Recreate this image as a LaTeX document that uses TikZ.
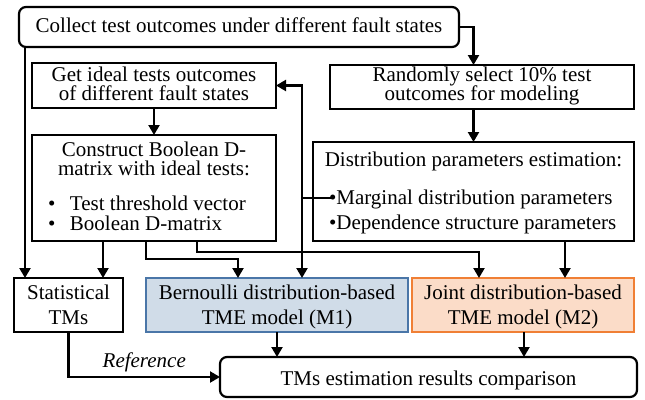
\documentclass[tikz,border=0pt]{standalone}
\usepackage{fontspec}
\setmainfont{Liberation Serif}
\usetikzlibrary{arrows.meta}
\definecolor{bluebd}{HTML}{4A76A8}
\definecolor{bluefill}{HTML}{D0DCE8}
\definecolor{orangebd}{HTML}{F07F35}
\definecolor{orangefill}{HTML}{FBDCC8}
\newcommand{\bigbul}{\makebox[22pt][l]{•}}
\begin{document}
\begin{tikzpicture}[x=1pt,y=-1pt,
  box/.style={draw, line width=2.2pt, inner sep=0pt, outer sep=0pt, rectangle},
  rbox/.style={box, rounded corners=7pt},
  txt/.style={inner sep=0pt, outer sep=0pt, font=\fontsize{21}{16}\selectfont},
  arr/.style={line width=2.2pt, -{Triangle[length=10pt,width=11pt]}},
  ln/.style={line width=2.2pt}]
\useasboundingbox (0,0) rectangle (645,399);

% boxes
\node[rbox, minimum width=440pt, minimum height=40pt] (top) at (239,27) {};
\node[box, minimum width=244pt, minimum height=45pt] (get) at (154,85.5) {};
\node[box, minimum width=244pt, minimum height=106pt] (con) at (154,188) {};
\node[box, minimum width=304pt, minimum height=44pt] (rand) at (482,87) {};
\node[box, minimum width=321pt, minimum height=99pt] (dist) at (473.5,191.5) {};
\node[box, minimum width=109pt, minimum height=54pt] (stat) at (68.5,305) {};
\node[box, draw=bluebd, fill=bluefill, minimum width=262pt, minimum height=54pt] (bern) at (277,305) {};
\node[box, draw=orangebd, fill=orangefill, minimum width=222pt, minimum height=54pt] (joint) at (523,305) {};
\node[rbox, minimum width=417pt, minimum height=40pt] (bot) at (428.5,377) {};

% texts
\node[txt, anchor=base] (t1) at (239,32) {Collect test outcomes under different fault states};
\node[txt, anchor=base] (g1) at (154,81.5) {Get ideal tests outcomes};
\node[txt, anchor=base] (g2) at (154,100.5) {of different fault states};
\node[txt, anchor=base] (r1) at (482,81.5) {Randomly select 10\% test};
\node[txt, anchor=base] (r2) at (482,100.5) {outcomes for modeling};
\node[txt, anchor=base] (c1) at (154,156.5) {Construct Boolean D-};
\node[txt, anchor=base] (c2) at (154,175.5) {matrix with ideal tests:};
\node[txt, anchor=base west] (c3) at (48,210) {\bigbul Test threshold vector};
\node[txt, anchor=base west] (c4) at (48,230) {\bigbul Boolean D-matrix};
\node[txt, anchor=base] (d1) at (473.5,166) {Distribution parameters estimation:};
\node[txt, anchor=base west] (d2) at (329,204) {•Marginal distribution parameters};
\node[txt, anchor=base west] (d3) at (329,229) {•Dependence structure parameters};
\node[txt, anchor=base] (s1) at (68.5,299) {Statistical};
\node[txt, anchor=base] (s2) at (68.5,324) {TMs};
\node[txt, anchor=base] (b1) at (277,299) {Bernoulli distribution-based};
\node[txt, anchor=base] (b2) at (277,324) {TME model (M1)};
\node[txt, anchor=base] (j1) at (523,299) {Joint distribution-based};
\node[txt, anchor=base] (j2) at (523,324) {TME model (M2)};
\node[txt, anchor=base] (e1) at (428.5,385) {TMs estimation results comparison};

% connectors
\draw[arr] (top.east) -| (dist.north |- rand.north);
\draw[arr] ([xshift=6pt]top.south west) -- ([xshift=11pt]stat.north west);
\draw[arr] (get.south) -- (con.north);
\draw[arr] (dist.north |- rand.south) -- (dist.north);
\coordinate (mb) at (331,198);
\coordinate (jn) at (302,198);
\draw[ln] (mb) -- (jn);
\draw[arr] (jn) |- (get.east);
\draw[arr] (jn) -- (jn |- bern.north);
\draw[arr] ([xshift=-51pt]con.south) -- ++(0,37);
\draw[arr] ([xshift=-8pt]con.south) -- ++(0,18) -| ([xshift=-39pt]bern.north);
\draw[arr] ([xshift=43pt]con.south) -- ++(0,11) -| ([xshift=-44pt]joint.north);
\draw[arr] ([xshift=91.5pt]dist.south) -- ++(0,37);
\draw[arr] (bern.south) -- (bern.south |- bot.north);
\draw[arr] ([xshift=1pt]joint.south) -- ++(0,25);
\draw[arr] (stat.south) |- node[txt, pos=0.75, above=5pt, font=\fontsize{21}{16}\selectfont\itshape] (ref) {Reference} (bot.west);
\end{tikzpicture}
\end{document}
